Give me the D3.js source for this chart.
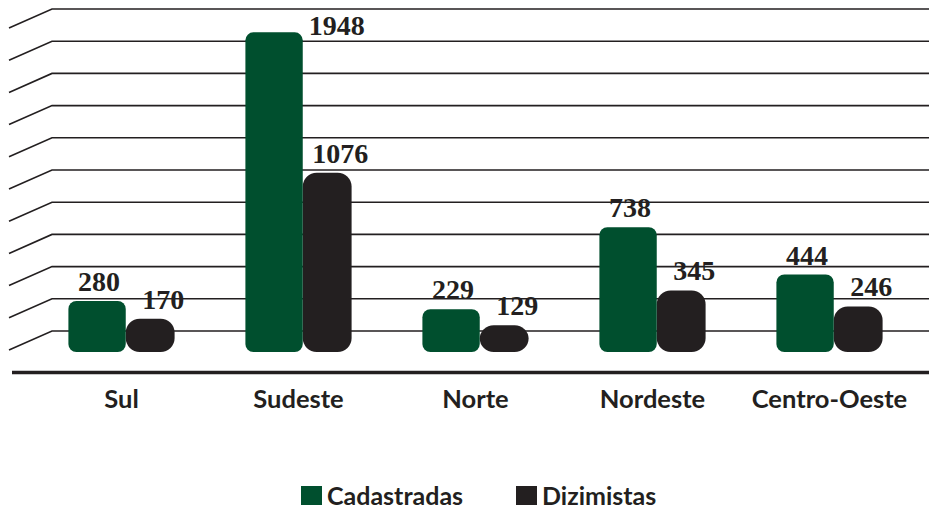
<!DOCTYPE html>
<html>
<head>
<meta charset="utf-8">
<script src="https://cdn.jsdelivr.net/npm/d3@7/dist/d3.min.js"></script>
<style>
  html, body { margin: 0; padding: 0; background: #fff; }
  svg { display: block; }
  .cat { font-family: Lato, "Open Sans", sans-serif; font-weight: 700; font-size: 25.5px; fill: #231f20; }
  .val { font-family: "Liberation Serif", serif; font-weight: 700; font-size: 28px; fill: #231f20; }
  .leg { font-family: Lato, "Open Sans", sans-serif; font-weight: 700; font-size: 25px; fill: #231f20; }
</style>
</head>
<body>
<svg id="chart" width="929" height="512"></svg>
<script>
// values
var regions = ["Sul", "Sudeste", "Norte", "Nordeste", "Centro-Oeste"];
var cadastradas = [280, 1948, 229, 738, 444];
var dizimistas = [170, 1076, 129, 345, 246];
var seriesNames = ["Cadastradas", "Dizimistas"];
var gridTicks = d3.range(0, 2001, 200);

var GREEN = "#004f2e";
var BLACK = "#231f20";

var svg = d3.select("#chart");

var y = d3.scaleLinear().domain([0, 2000]).range([331, 9]);
var x = d3.scaleBand().domain(regions).range([33, 918])
  .paddingInner(0.4).paddingOuter(0.2);

var depth = 15;        // front face of bars sits below the back wall
var floorY = 352;      // bottom of bars
var slantDX = 43, slantDY = 19;
var wallX = 52;

// grid: back wall lines with a slanted side wall
var grid = svg.append("g").attr("stroke", BLACK).attr("stroke-width", 1.6).attr("fill", "none");
gridTicks.forEach(function (t) {
  var gy = y(t);
  grid.append("path")
    .attr("d", "M" + (wallX - slantDX) + "," + (gy + slantDY) + "L" + wallX + "," + gy + "L929," + gy);
});

// x axis line
svg.append("line")
  .attr("x1", 12).attr("x2", 929)
  .attr("y1", 372.5).attr("y2", 372.5)
  .attr("stroke", BLACK).attr("stroke-width", 3.5);

var bw = x.bandwidth();
var greenW = bw * 0.54;
var blackW = bw - greenW;

var rows = regions.map(function (r, i) {
  return { region: r, cad: cadastradas[i], diz: dizimistas[i] };
});

var g = svg.append("g");

// black bars (drawn first so green overlaps the seam)
g.selectAll("rect.diz").data(rows).join("rect")
  .attr("class", "diz")
  .attr("x", function (d) { return x(d.region) + greenW; })
  .attr("width", blackW)
  .attr("y", function (d) { return y(d.diz) + depth; })
  .attr("height", function (d) { return floorY - (y(d.diz) + depth); })
  .attr("rx", 14).attr("ry", 14)
  .attr("fill", BLACK);

g.selectAll("rect.cad").data(rows).join("rect")
  .attr("class", "cad")
  .attr("x", function (d) { return x(d.region); })
  .attr("width", greenW)
  .attr("y", function (d) { return y(d.cad) + depth; })
  .attr("height", function (d) { return floorY - (y(d.cad) + depth); })
  .attr("rx", 8).attr("ry", 8)
  .attr("fill", GREEN);

// value labels; a label that would leave the top goes beside its bar
function tooHigh(v) { return y(v) + 5 - 22 < 4; }

g.selectAll("text.vcad").data(rows).join("text")
  .attr("class", "val vcad")
  .attr("text-anchor", function (d) { return tooHigh(d.cad) ? "start" : "middle"; })
  .attr("x", function (d) {
    return tooHigh(d.cad) ? x(d.region) + greenW + 6 : x(d.region) + greenW / 2 + 2;
  })
  .attr("y", function (d) { return tooHigh(d.cad) ? y(d.cad) + depth + 3 : y(d.cad) + 5; })
  .text(function (d) { return d.cad; });

g.selectAll("text.vdiz").data(rows).join("text")
  .attr("class", "val vdiz")
  .attr("text-anchor", "middle")
  .attr("x", function (d) { return x(d.region) + greenW + blackW / 2 + 13; })
  .attr("y", function (d) { return y(d.diz) + 5; })
  .text(function (d) { return d.diz; });

// category labels
svg.append("g").selectAll("text").data(regions).join("text")
  .attr("class", "cat")
  .attr("text-anchor", "middle")
  .attr("x", function (d) { return x(d) + bw / 2; })
  .attr("y", 408)
  .text(function (d) { return d; });

// legend
var legend = svg.append("g");
var legX = [301, 516];
var legColors = [GREEN, BLACK];
seriesNames.forEach(function (name, i) {
  legend.append("rect")
    .attr("x", legX[i]).attr("y", 486).attr("width", 21).attr("height", 19)
    .attr("fill", legColors[i]);
  legend.append("text")
    .attr("class", "leg")
    .attr("x", legX[i] + 26).attr("y", 505)
    .text(name);
});
</script>
</body>
</html>
